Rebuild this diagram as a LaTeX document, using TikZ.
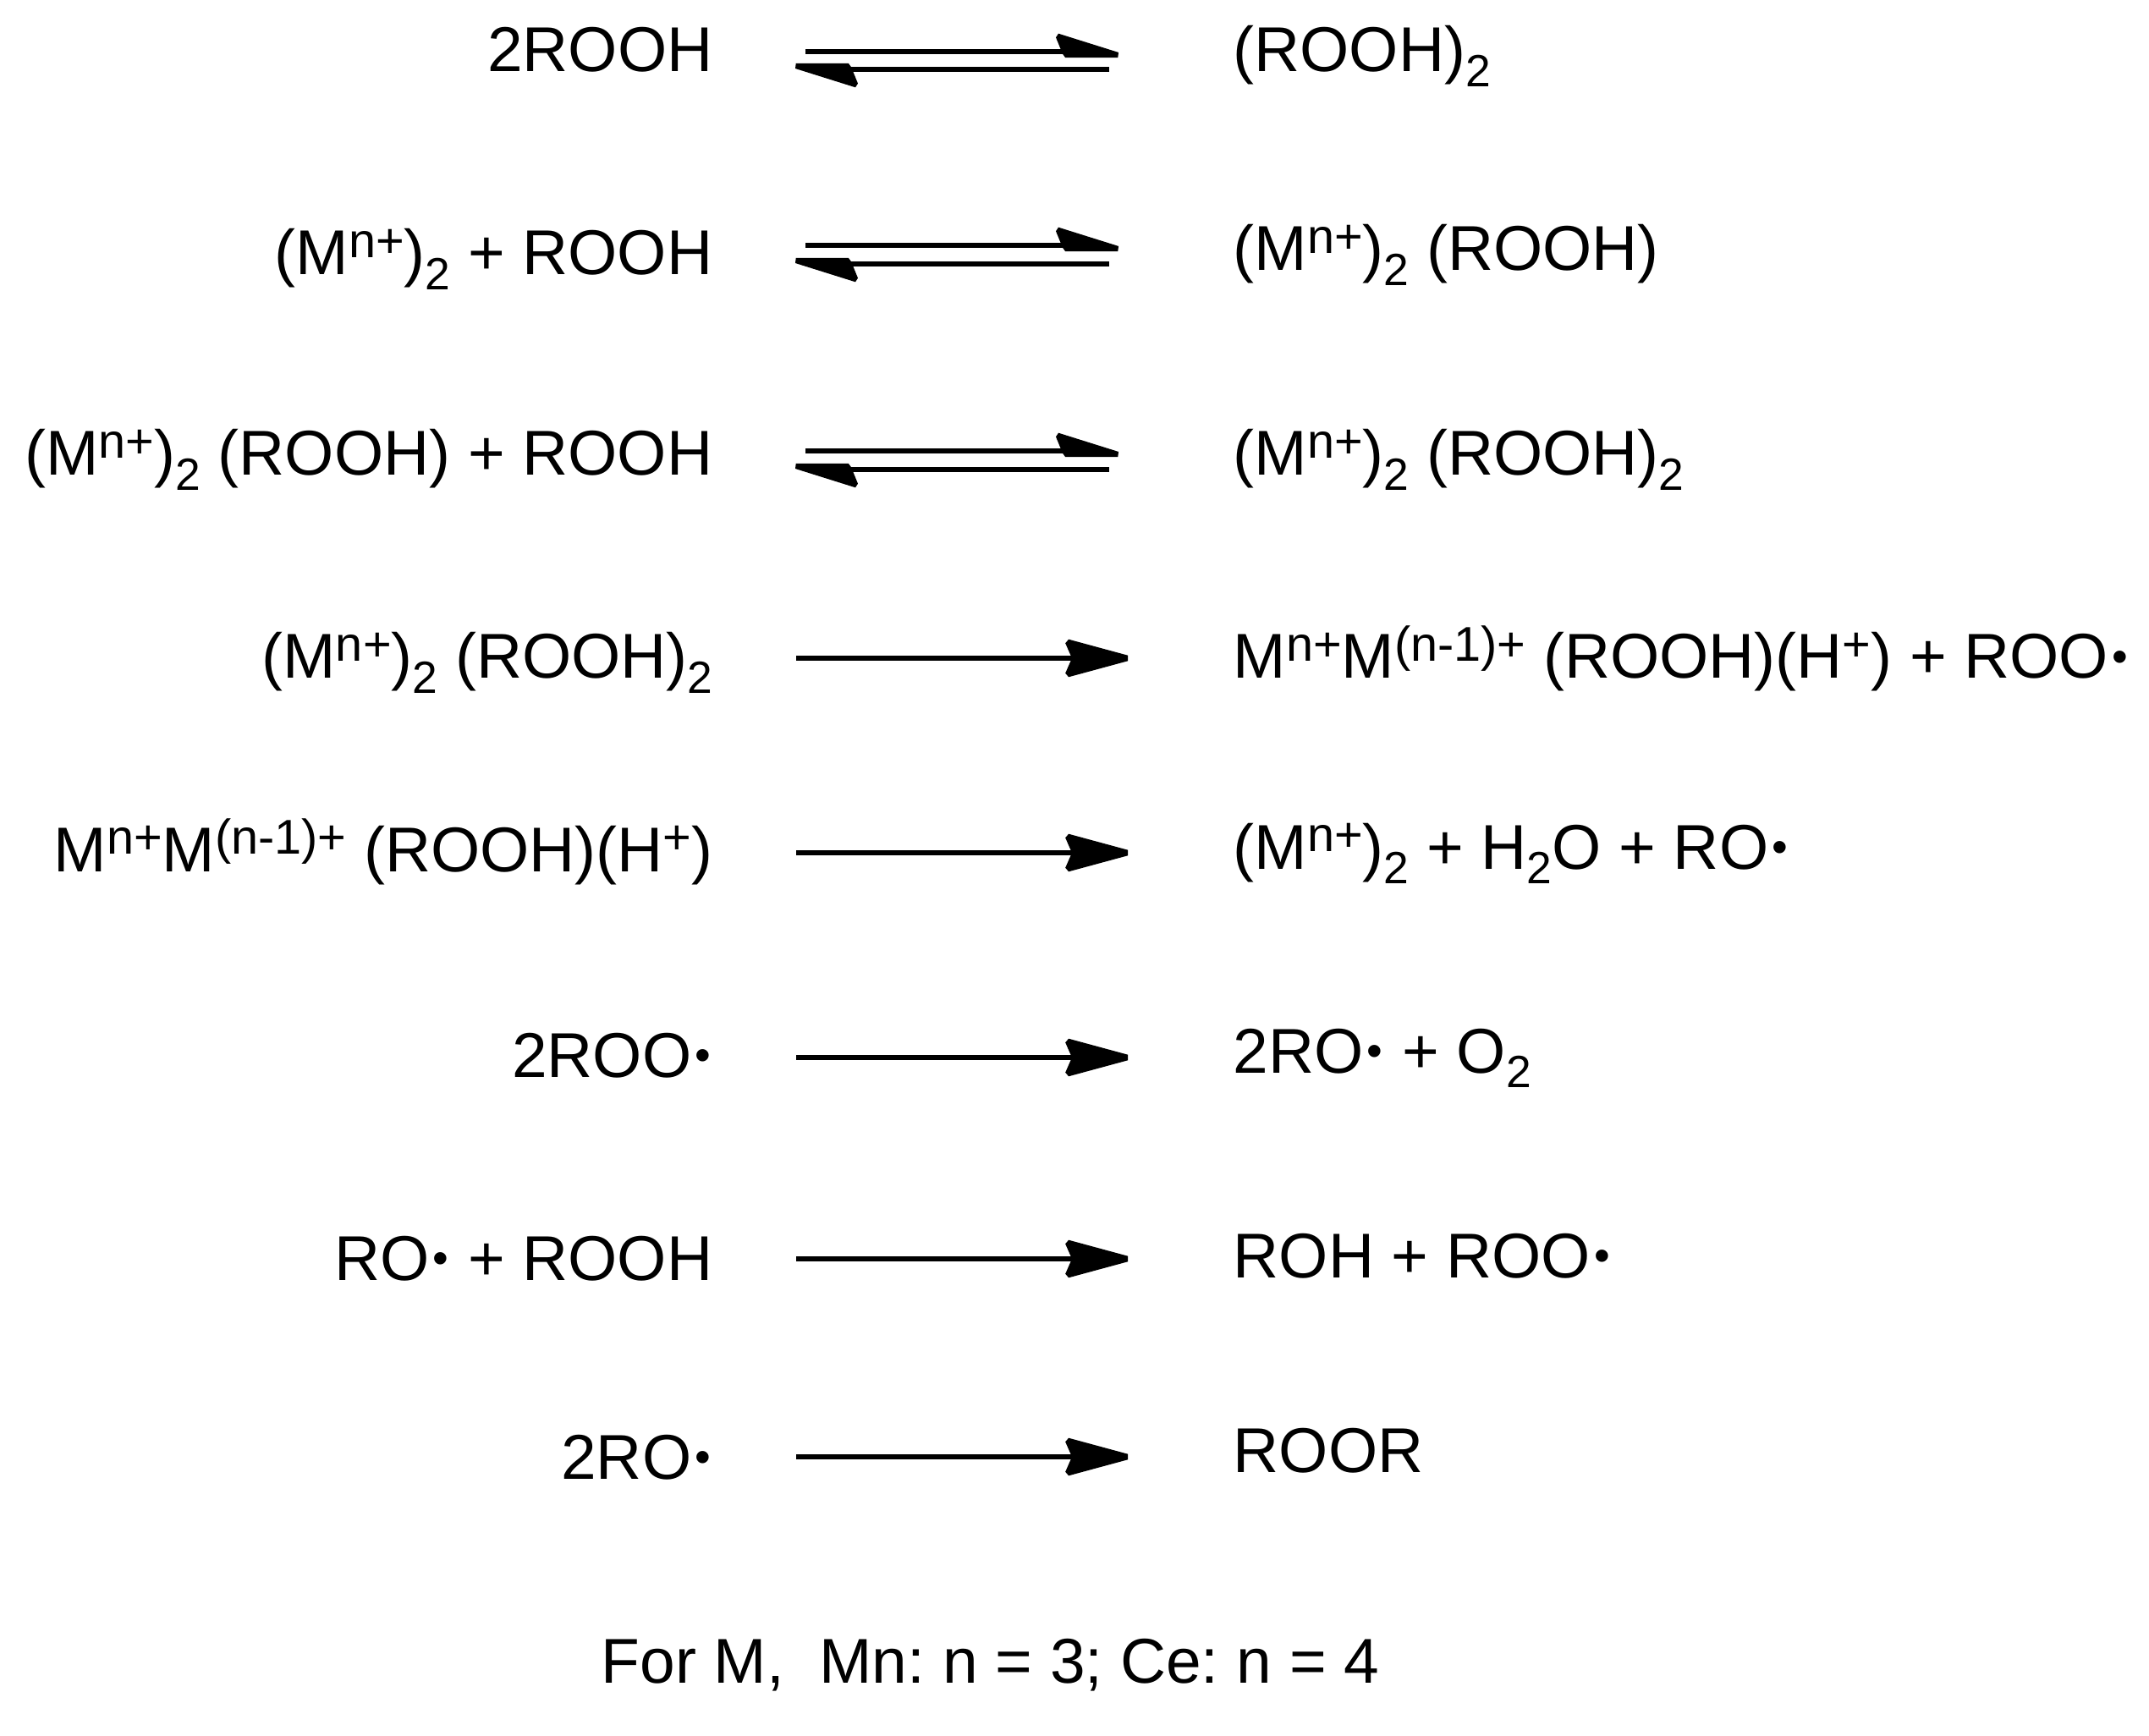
\documentclass[tikz,border=0pt]{standalone}
\usepackage{fontspec}
\setmainfont{Liberation Sans}
\pgfdeclarearrow{
  name = fwdhead,
  setup code = {
    \pgfarrowssettipend{0pt}
    \pgfarrowssetbackend{-21pt}
    \pgfarrowssetlineend{-18pt}
  },
  drawing code = {
    \pgfpathmoveto{\pgfqpoint{0pt}{-0.94pt}}
    \pgfpathlineto{\pgfqpoint{0pt}{0.94pt}}
    \pgfpathlineto{\pgfqpoint{-19.9pt}{6.34pt}}
    \pgfpathlineto{\pgfqpoint{-21pt}{5.04pt}}
    \pgfpathlineto{\pgfqpoint{-18.8pt}{0pt}}
    \pgfpathlineto{\pgfqpoint{-21pt}{-5.04pt}}
    \pgfpathlineto{\pgfqpoint{-19.9pt}{-6.34pt}}
    \pgfpathclose
    \pgfusepathqfill
  }
}
\pgfdeclarearrow{
  name = eqhead,
  setup code = {
    \pgfarrowssettipend{0pt}
    \pgfarrowssetbackend{-21pt}
    \pgfarrowssetlineend{-18pt}
  },
  drawing code = {
    \pgfpathmoveto{\pgfqpoint{0pt}{-0.28pt}}
    \pgfpathlineto{\pgfqpoint{-0.2pt}{-2pt}}
    \pgfpathlineto{\pgfqpoint{-17.9pt}{-2pt}}
    \pgfpathlineto{\pgfqpoint{-18.8pt}{-0.77pt}}
    \pgfpathlineto{\pgfqpoint{-21.05pt}{4.75pt}}
    \pgfpathlineto{\pgfqpoint{-20.2pt}{6.06pt}}
    \pgfpathclose
    \pgfusepathqfill
  }
}
\newcommand{\sps}[1]{\raisebox{5.7pt}{\fontsize{16.4}{16.4}\selectfont #1}}
\newcommand{\sbs}[1]{\raisebox{-4.9pt}{\fontsize{15.2}{15.2}\selectfont #1}}
\newcommand{\rad}{\kern1.2pt\raisebox{2pt}{\fontsize{15.2}{15.2}\selectfont\textbullet}\kern0.6pt}
\tikzset{
  lhs/.style={anchor=base east, inner sep=0pt, font=\fontsize{21.3}{24}\selectfont},
  rhs/.style={anchor=base west, inner sep=0pt, font=\fontsize{21.3}{24}\selectfont},
  fwd/.style={-fwdhead, line width=1.5pt},
  eqm/.style={-eqhead, line width=1.5pt}
}
\begin{document}
\begin{tikzpicture}
    \useasboundingbox (0,0) rectangle (25.4,20.51);

    % Left-hand sides
    \node[lhs] (l1) at (8.43,19.66) {2ROOH};
    \node[lhs] (l2) at (8.43,17.26) {(M\sps{n+})\sbs{2} + ROOH};
    \node[lhs] (l3) at (8.43,14.89) {(M\sps{n+})\sbs{2} (ROOH) + ROOH};
    \node[lhs] (l4) at (8.43,12.49) {(M\sps{n+})\sbs{2} (ROOH)\sbs{2}};
    \node[lhs] (l5) at (8.43,10.21) {M\sps{n+}M\sps{(n-1)+} (ROOH)(H\sps{+})};
    \node[lhs] (l6) at (8.43,7.78) {2ROO\rad};
    \node[lhs] (l7) at (8.43,5.38) {RO\rad{} + ROOH};
    \node[lhs] (l8) at (8.43,3.03) {2RO\rad};

    % Right-hand sides
    \node[rhs] (r1) at (14.57,19.66) {(ROOH)\sbs{2}};
    \node[rhs] (r2) at (14.57,17.31) {(M\sps{n+})\sbs{2} (ROOH)};
    \node[rhs] (r3) at (14.57,14.89) {(M\sps{n+})\sbs{2} (ROOH)\sbs{2}};
    \node[rhs] (r4) at (14.57,12.49) {M\sps{n+}M\sps{(n-1)+} (ROOH)(H\sps{+}) + ROO\rad};
    \node[rhs] (r5) at (14.57,10.24) {(M\sps{n+})\sbs{2} + H\sbs{2}O + RO\rad};
    \node[rhs] (r6) at (14.57,7.83) {2RO\rad{} + O\sbs{2}};
    \node[rhs] (r7) at (14.57,5.41) {ROH + ROO\rad};
    \node[rhs] (r8) at (14.57,3.11) {ROOR};

    % Arrow ends
    \coordinate (a1) at (9.52,19.90);
    \coordinate (b1) at (13.22,19.90);
    \coordinate (c1) at (13.11,19.69);
    \coordinate (d1) at (9.40,19.69);
    \coordinate (a2) at (9.52,17.61);
    \coordinate (b2) at (13.22,17.61);
    \coordinate (c2) at (13.11,17.39);
    \coordinate (d2) at (9.40,17.39);
    \coordinate (a3) at (9.52,15.18);
    \coordinate (b3) at (13.22,15.18);
    \coordinate (c3) at (13.11,14.96);
    \coordinate (d3) at (9.40,14.96);
    \coordinate (a4) at (9.41,12.73);
    \coordinate (b4) at (13.33,12.73);
    \coordinate (a5) at (9.41,10.43);
    \coordinate (b5) at (13.33,10.43);
    \coordinate (a6) at (9.41,8.01);
    \coordinate (b6) at (13.33,8.01);
    \coordinate (a7) at (9.41,5.63);
    \coordinate (b7) at (13.33,5.63);
    \coordinate (a8) at (9.41,3.29);
    \coordinate (b8) at (13.33,3.29);

    % Equilibria
    \draw[eqm] (a1) -- (b1);
    \draw[eqm] (c1) -- (d1);
    \draw[eqm] (a2) -- (b2);
    \draw[eqm] (c2) -- (d2);
    \draw[eqm] (a3) -- (b3);
    \draw[eqm] (c3) -- (d3);

    % One-way steps
    \draw[fwd] (a4) -- (b4);
    \draw[fwd] (a5) -- (b5);
    \draw[fwd] (a6) -- (b6);
    \draw[fwd] (a7) -- (b7);
    \draw[fwd] (a8) -- (b8);

    % Footnote
    \node[rhs] (note) at (7.10,0.62) {\frenchspacing For M,\ \ Mn: n = 3; Ce: n = 4};
\end{tikzpicture}
\end{document}
